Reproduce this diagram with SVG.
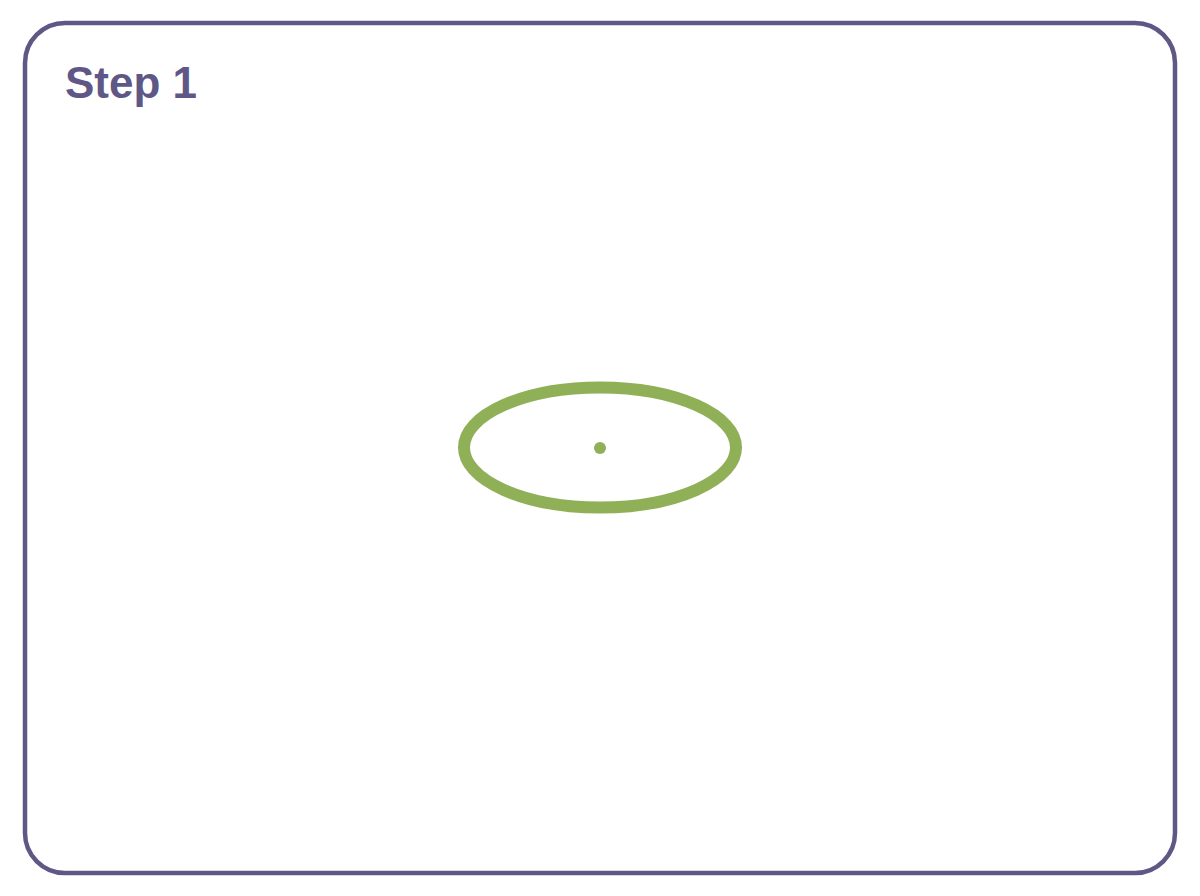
<svg xmlns="http://www.w3.org/2000/svg" width="1200" height="896" viewBox="0 0 1200 896">
<style>
.frame{fill:#ffffff;stroke:#5f5887;stroke-width:4.5}
.title{font-family:"Liberation Sans",Arial,sans-serif;font-weight:bold;font-size:44px;fill:#5f5887}
.ring{fill:none;stroke:#8fb057;stroke-width:12}
.dot{fill:#8fb057}
</style>
<rect width="1200" height="896" fill="#ffffff"/>
<g id="frame">
<rect class="frame" x="25" y="23" width="1150" height="850" rx="40" ry="40"/>
<text class="title" x="65" y="98">Step 1</text>
</g>
<g id="ellipse">
<ellipse class="ring" cx="600" cy="447.5" rx="136" ry="60"/>
<circle class="dot" cx="600" cy="448" r="6"/>
</g>
<g id="connectors"></g>
</svg>
